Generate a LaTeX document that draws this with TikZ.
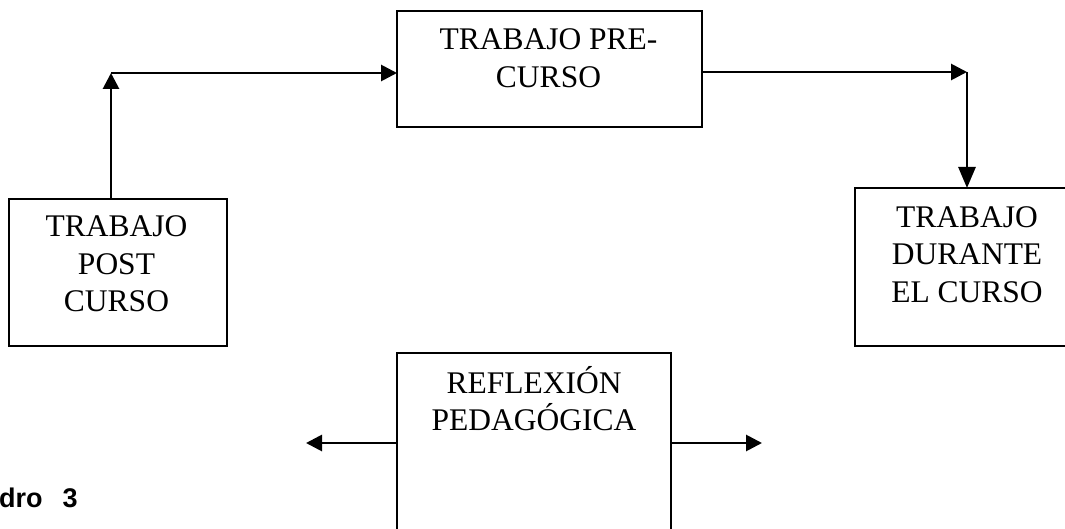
\documentclass[tikz,border=0pt]{standalone}
\usepackage{fontspec}
\setmainfont{Liberation Serif}
\newfontfamily\arialfont{Liberation Sans}
\usetikzlibrary{arrows.meta,calc}
\begin{document}
\begin{tikzpicture}[x=1pt,y=-1pt,
  boxnode/.style={draw, line width=2.8pt, inner sep=0pt, outer sep=0pt, anchor=north west},
  txt/.style={font=\fontsize{31.5}{37.5}\selectfont, align=center, inner sep=0pt, anchor=base},
  arr/.style={line width=2.8pt, -{Triangle[length=16pt,width=16pt]}},
  arrlong/.style={line width=2.8pt, -{Triangle[length=21pt,width=17pt]}},
]
\useasboundingbox (0,0) rectangle (1065,529);
\clip (0,0) rectangle (1065,529);
\node[boxnode, minimum width=305pt, minimum height=116pt] (pre) at (397,11) {};
\node[boxnode, minimum width=218pt, minimum height=147pt] (post) at (9,199) {};
\node[boxnode, minimum width=224pt, minimum height=158pt] (dur) at (855,188) {};
\node[boxnode, minimum width=274pt, minimum height=220pt] (ref) at (397,353) {};

% base anchor = baseline of the last line
\node[txt] (tpre) at ($(pre.north)+(-1,76.5)$) {TRABAJO PRE-\\CURSO};
\node[txt] (tpost) at ($(post.north)+(-1.5,113)$) {TRABAJO\\POST\\CURSO};
\node[txt] (tdur) at ($(dur.north west)+(112,114)$) {TRABAJO\\DURANTE\\EL CURSO};
\node[txt] (tref) at ($(ref.north)+(0,77.5)$) {REFLEXIÓN\\PEDAGÓGICA};

\coordinate (c1) at (111,73);
\coordinate (c2) at (967,72);
\coordinate (c3) at (306,443);
\coordinate (c4) at (762,443);

\draw[arr] (c1 |- post.north) -- (c1);
\draw[arr] (c1) -- (c1 -| pre.west);
\draw[arr] (c2 -| pre.east) -- (c2);
\draw[arrlong] (c2) -- (c2 |- dur.north);
\draw[arr] (c3 -| ref.west) -- (c3);
\draw[arr] (c4 -| ref.east) -- (c4);

\node[font=\arialfont\bfseries\fontsize{27}{30}\selectfont, anchor=base west, inner sep=0pt] (cap) at (-1,507) {dro\hspace{20pt}3};
\end{tikzpicture}
\end{document}
